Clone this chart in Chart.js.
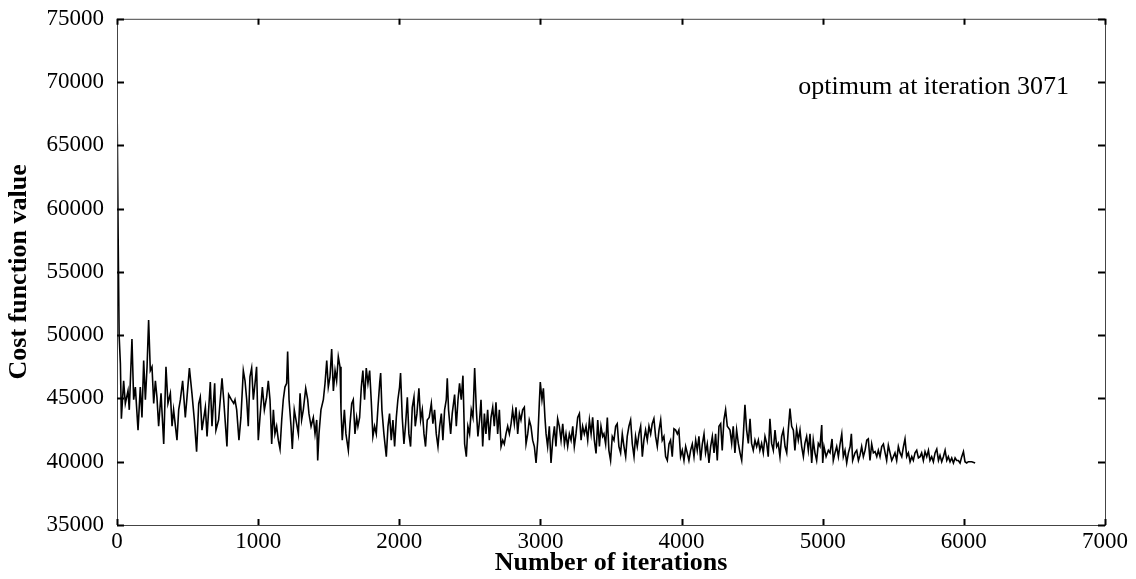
<!DOCTYPE html>
<html>
<head>
<meta charset="utf-8">
<script src="https://cdn.jsdelivr.net/npm/chart.js@4"></script>
<style>
  body { margin: 0; background: #fff; }
</style>
</head>
<body>
<canvas id="costChart" width="1136" height="579"></canvas>
<script>
// 軸の目盛り
var xTicks = [0, 1000, 2000, 3000, 4000, 5000, 6000, 7000];
var yTicks = [35000, 40000, 45000, 50000, 55000, 60000, 65000, 70000, 75000];
var noteText = "optimum at iteration 3071";

// 反復回数
var iterations = [
  0, 8, 15, 24, 31, 47, 59, 78, 87, 106, 118, 130, 149, 165, 177, 189, 201, 213, 224, 236, 248, 260, 272, 283, 295, 312, 331, 347, 361, 378, 390, 401, 425, 437, 449, 465, 484, 496, 513, 531, 548, 564, 579, 590, 602, 626, 638, 661, 673, 692, 701, 720, 744, 756, 779, 791, 810, 827,
  836, 848, 864, 878, 895, 907, 919, 930, 942, 954, 966, 978, 989, 1001, 1013, 1030, 1044, 1060, 1072, 1084, 1096, 1108, 1119, 1131, 1143, 1155, 1167, 1178, 1190, 1202, 1209, 1219, 1233, 1242, 1256, 1268, 1285, 1297, 1308, 1320, 1337, 1351, 1360, 1375, 1391, 1403, 1415, 1422, 1431, 1445, 1462, 1474, 1486, 1497, 1509, 1521, 1533, 1545, 1556, 1568, 1580, 1587, 1596, 1611, 1622, 1639, 1651, 1663, 1674, 1686, 1698,
  1707, 1719, 1731, 1742, 1754, 1766, 1778, 1790, 1801, 1813, 1825, 1837, 1849, 1861, 1868, 1877, 1891, 1908, 1920, 1931, 1943, 1955, 1967, 1979, 1990, 2002, 2009, 2021, 2033, 2045, 2057, 2068, 2080, 2092, 2104, 2113, 2125, 2139, 2151, 2163, 2175, 2186, 2198, 2212, 2227, 2238, 2250, 2262, 2274, 2286, 2298, 2309, 2321, 2333, 2340, 2349, 2364, 2375, 2392, 2404, 2416, 2427, 2439, 2451, 2463, 2475, 2486, 2498, 2510, 2522, 2534, 2546, 2557, 2569,
  2579, 2591, 2603, 2614, 2626, 2638, 2650, 2662, 2673, 2685, 2697, 2709, 2721, 2733, 2744, 2756, 2768, 2780, 2792, 2803, 2815, 2827, 2839, 2851, 2862, 2874, 2886, 2898, 2910, 2921, 2933, 2945, 2957, 2969, 2981, 2992, 2999, 3011, 3021, 3032, 3040, 3051, 3063, 3075, 3087, 3099, 3110, 3122, 3134, 3146, 3158, 3170, 3181, 3193, 3205, 3217, 3229, 3240, 3252, 3264, 3276, 3288, 3299, 3311, 3323, 3335, 3347, 3359, 3370, 3382, 3394, 3406, 3418, 3429, 3441,
  3450, 3462, 3474, 3485, 3497, 3509, 3521, 3533, 3544, 3556, 3568, 3580, 3592, 3604, 3615, 3627, 3639, 3651, 3663, 3674, 3686, 3698, 3710, 3722, 3733, 3745, 3757, 3769, 3781, 3792, 3804, 3816, 3828, 3840, 3852, 3863, 3875, 3887, 3899, 3911, 3922, 3934, 3946, 3958, 3970, 3981, 3993, 4005, 4017, 4029, 4040, 4052, 4064, 4076, 4088, 4100, 4111, 4123, 4135, 4147, 4159, 4170, 4182, 4194, 4206, 4218, 4230, 4241, 4253, 4265, 4277, 4288, 4300, 4312, 4324,
  4343, 4355, 4366, 4378, 4390, 4402, 4414, 4426, 4437, 4449, 4461, 4473, 4485, 4496, 4508, 4520, 4532, 4544, 4555, 4567, 4579, 4591, 4603, 4614, 4626, 4638, 4650, 4662, 4674, 4685, 4697, 4709, 4721, 4733, 4745, 4756, 4768, 4780, 4792, 4803, 4815, 4827, 4839, 4851, 4863, 4874, 4886, 4898, 4910, 4922, 4933, 4945, 4957, 4969,
  4981, 4993, 5000, 5009, 5024, 5040, 5052, 5066, 5075, 5087, 5099, 5111, 5123, 5135, 5146, 5158, 5170, 5182, 5194, 5203, 5212, 5229, 5241, 5253, 5264, 5276, 5288, 5300, 5312, 5323, 5335, 5347, 5359, 5371, 5383, 5394, 5406, 5418, 5430, 5442, 5453, 5465, 5477, 5489, 5501, 5512, 5524, 5536, 5548, 5560, 5572, 5583, 5595, 5607, 5619, 5631, 5642, 5654, 5666, 5678, 5690, 5701, 5713, 5725, 5737, 5749, 5760, 5772, 5784, 5796, 5808, 5820, 5831, 5843, 5855, 5867, 5879, 5890, 5902, 5914, 5926, 5938, 5949, 5961, 5973, 5985, 5997, 6008, 6020, 6032, 6056, 6080
];

// コスト関数の値
var cost = [
  69000, 58000, 50000, 47750, 43400, 46400, 44600, 45600, 44100, 49700, 44900, 45900, 42500, 45900, 43500, 48000, 44900, 47500, 51200, 47200, 47500, 44600, 46400, 45100, 42800, 45400, 41400, 47500, 44600, 45400, 42800, 44100, 41700, 44100, 44900, 46400, 43500, 45100, 47400, 45400, 43300, 40800, 44600, 45100, 42500, 44300, 42000, 46300, 42800, 46200, 42500, 43300, 46600, 44900, 41200, 45300, 44900, 44600,
  44900, 44100, 41700, 43500, 47200, 46400, 44900, 42800, 46700, 47400, 44900, 46200, 47500, 41700, 43500, 45900, 44100, 45100, 46400, 44900, 41400, 44100, 42200, 42800, 41700, 41000, 43300, 44900, 45900, 46200, 48700, 44900, 42800, 41000, 44100, 43300, 42200, 45400, 43300, 44100, 45800, 44900, 43800, 42800, 43500, 42200, 43300, 40100, 42200, 44100, 44900, 46200, 48000, 45900, 46700, 48900, 45600, 47200, 46400, 48300, 47500, 44100, 41700, 44100, 42200, 40900, 43000, 44600, 44900, 42200, 43500,
  42800, 43500, 45900, 47200, 44900, 47400, 46200, 47200, 44900, 42000, 42800, 42200, 44300, 46200, 47000, 44100, 42200, 40400, 42800, 43800, 41700, 43300, 41200, 43500, 44900, 45900, 47000, 43500, 41400, 43000, 45100, 42200, 41200, 44300, 45100, 42800, 43800, 45800, 43300, 44100, 42200, 41200, 43300, 43500, 44600, 43000, 44100, 42200, 41200, 42800, 43800, 41700, 44100, 44900, 46600, 44100, 42200, 43800, 45300, 42800, 44900, 46200, 44900, 46800, 41400, 40400, 42800, 42200, 44100, 43500, 47400, 44100, 42000, 43300,
  44900, 41200, 43800, 42200, 44100, 41700, 43500, 44300, 42800, 44700, 42200, 44100, 41200, 41700, 41400, 42200, 42800, 42200, 43000, 44100, 43000, 44300, 42200, 43800, 43300, 44100, 44300, 41400, 42200, 43300, 42800, 41700, 41200, 39900, 41700, 44600, 46300, 44900, 45800, 43500, 42200, 41200, 42800, 39900, 41700, 42800, 41200, 43400, 42800, 41700, 43000, 41400, 42200, 41200, 42200, 41700, 42800, 41200, 42200, 43500, 43800, 41700, 42800, 42200, 42800, 41700, 43300, 42200, 43500, 41700, 40650, 43300, 41200, 42800, 42000,
  42200, 41400, 43500, 40900, 40100, 42000, 41700, 42800, 43000, 41200, 40700, 42200, 41200, 40400, 42000, 42800, 43300, 41400, 40400, 42000, 41200, 42200, 42800, 40400, 41700, 42500, 41700, 42800, 42200, 43000, 43400, 42000, 41200, 42500, 43300, 41700, 42000, 40400, 40100, 41400, 41700, 40400, 42600, 42500, 42200, 42500, 40400, 40900, 40100, 41200, 40700, 40100, 40900, 41400, 40400, 41700, 40900, 42000, 40100, 41400, 42200, 40700, 41400, 39900, 41200, 42000, 40700, 42200, 40100, 42800, 43000, 40900, 43300, 44100, 42800,
  42500, 41450, 42800, 40700, 42500, 41450, 40700, 40100, 42000, 44500, 42500, 41450, 43400, 41450, 40900, 41700, 41200, 41700, 40900, 41450, 40700, 42000, 41450, 40400, 43400, 41450, 40900, 42500, 41200, 41450, 40400, 42000, 42500, 41200, 40700, 42500, 44200, 42800, 42500, 40900, 42600, 41700, 42500, 41200, 40400, 41450, 42000, 40900, 42200, 39900, 41700, 40700, 40100, 41450,
  41200, 42900, 39900, 41200, 40400, 40900, 40700, 41800, 40100, 40700, 41200, 40400, 41400, 42200, 40400, 40900, 39900, 40700, 41200, 42200, 40100, 40700, 40900, 40100, 40500, 41200, 40400, 40900, 41700, 41800, 40100, 41400, 40700, 40800, 40400, 40900, 40400, 41200, 41400, 40700, 40100, 41300, 40700, 40100, 40400, 40700, 40100, 41200, 40700, 40400, 41200, 41800, 40400, 40700, 40000, 40400, 40100, 40700, 40900, 40300, 40400, 40700, 40100, 40800, 40400, 40900, 40100, 40400, 40000, 40700, 41000, 40100, 40500, 40000, 40400, 40900, 40100, 40400, 40000, 40300, 39900, 40300, 40100, 40100, 39900, 40400, 40800, 40000, 39900, 40000, 40000, 39900
];

var points = [];
for (var i = 0; i < iterations.length; i++) {
  points.push({ x: iterations[i], y: cost[i] });
}

Chart.defaults.font.family = '"Liberation Serif", "Times New Roman", serif';
Chart.defaults.font.size = 23;
Chart.defaults.color = "#000";

// 枠線と内向きの目盛り、注記
var framePlugin = {
  id: "frame",
  afterDraw: function (chart) {
    var ctx = chart.ctx;
    var a = chart.chartArea;
    var xs = chart.scales.x;
    var ys = chart.scales.y;
    ctx.save();
    ctx.strokeStyle = "#444";
    ctx.lineWidth = 1;
    ctx.strokeRect(a.left + 0.5, a.top + 0.5, a.right - a.left, a.bottom - a.top);
    ctx.strokeStyle = "#000";
    ctx.lineWidth = 2;
    ctx.beginPath();
    xs.ticks.forEach(function (t) {
      var px = Math.round(xs.getPixelForValue(t.value)) + 0.5;
      ctx.moveTo(px, a.bottom); ctx.lineTo(px, a.bottom - 6);
      ctx.moveTo(px, a.top); ctx.lineTo(px, a.top + 6);
    });
    ys.ticks.forEach(function (t) {
      var py = Math.round(ys.getPixelForValue(t.value)) + 0.5;
      ctx.moveTo(a.left, py); ctx.lineTo(a.left + 7, py);
      ctx.moveTo(a.right, py); ctx.lineTo(a.right - 7, py);
    });
    ctx.stroke();
    ctx.fillStyle = "#000";
    ctx.font = '26px "Liberation Serif", "Times New Roman", serif';
    ctx.textAlign = "right";
    ctx.textBaseline = "alphabetic";
    ctx.fillText(noteText, a.right - 36, a.top + 75);
    ctx.restore();
  }
};

var costChart = new Chart(document.getElementById("costChart"), {
  type: "line",
  data: {
    datasets: [{
      data: points,
      borderColor: "#000",
      borderWidth: 1.6,
      pointRadius: 0,
      tension: 0,
      fill: false
    }]
  },
  options: {
    responsive: false,
    animation: false,
    layout: { padding: { top: 11, right: 31, left: 0, bottom: 0 } },
    plugins: { legend: { display: false }, tooltip: { enabled: false } },
    scales: {
      x: {
        type: "linear",
        min: xTicks[0],
        max: xTicks[xTicks.length - 1],
        afterBuildTicks: function (s) { s.ticks = xTicks.map(function (v) { return { value: v }; }); },
        afterFit: function (s) { s.height = 54; },
        grid: { display: false },
        border: { display: false },
        ticks: { padding: -5, maxRotation: 0, callback: function (v) { return String(v); } },
        title: {
          display: true,
          text: "Number of iterations",
          font: { weight: "bold", size: 26 },
          padding: { top: 0, bottom: 0 }
        }
      },
      y: {
        min: yTicks[0],
        max: yTicks[yTicks.length - 1],
        afterBuildTicks: function (s) { s.ticks = yTicks.map(function (v) { return { value: v }; }); },
        afterFit: function (s) { s.width = 117; },
        grid: { display: false },
        border: { display: false },
        ticks: { padding: 5, callback: function (v) { return String(v); } },
        title: {
          display: true,
          text: "Cost function value",
          font: { weight: "bold", size: 26 },
          padding: { top: 4, bottom: 0 }
        }
      }
    }
  },
  plugins: [framePlugin]
});
</script>
</body>
</html>
